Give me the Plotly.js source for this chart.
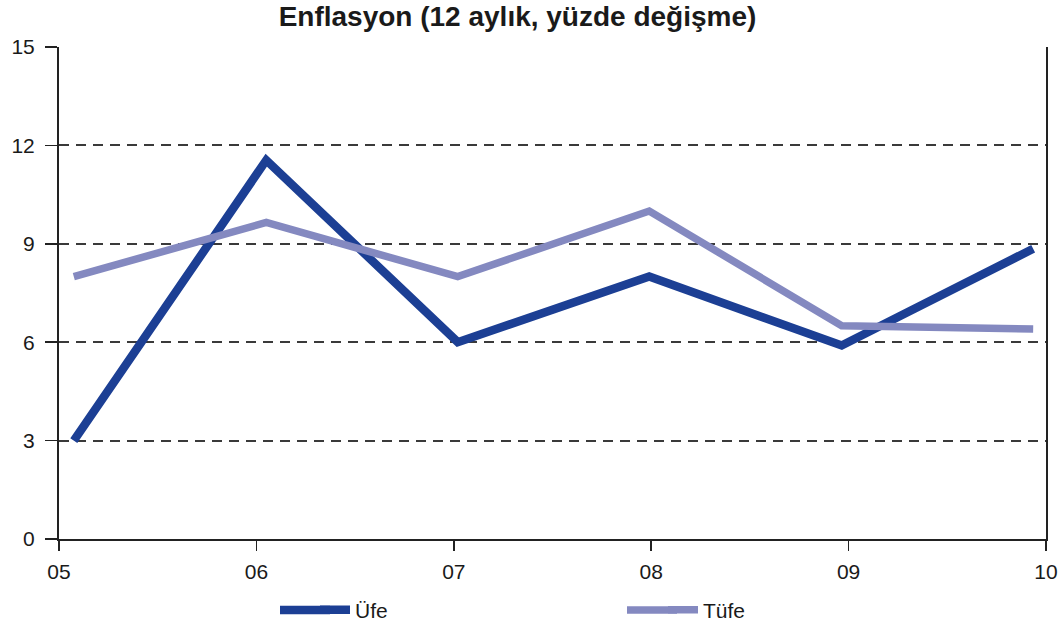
<!DOCTYPE html>
<html>
<head>
<meta charset="utf-8">
<script src="https://cdn.plot.ly/plotly-3.0.1.min.js"></script>
<style>html,body{margin:0;padding:0;background:#fff;}#chart{width:1059px;height:625px;}</style>
</head>
<body>
<div id="chart"></div>
<script>
// Point positions in years (data plotted slightly offset from the year ticks)
const xPoints = [2005.075, 2006.05, 2007.02, 2007.99, 2008.965, 2009.935];
const ufe = [3.0, 11.55, 6.0, 8.0, 5.9, 8.85];
const tufe = [8.0, 9.65, 8.0, 10.0, 6.5, 6.4];
const tickVals = [2005, 2006, 2007, 2008, 2009, 2010];
const tickText = ['05', '06', '07', '08', '09', '10'];
const yTicks = [0, 3, 6, 9, 12, 15];

const font = 'Liberation Sans, Arial, Helvetica, sans-serif';
const colUfe = '#1c3f94', colTufe = '#8489c0';
const wUfe = 8.5, wTufe = 7.5;

const traces = [
  {x: xPoints, y: ufe, name: 'Üfe', type: 'scatter', mode: 'lines',
   line: {color: colUfe, width: wUfe}},
  {x: xPoints, y: tufe, name: 'Tüfe', type: 'scatter', mode: 'lines',
   line: {color: colTufe, width: wTufe}}
];

// legend sample extensions (the reference's legend keys are longer than Plotly's)
const legY = (539 - 610) / 492;
const px = v => (v - 59) / 987;
const shapes = [
  {type: 'line', xref: 'paper', yref: 'paper', x0: px(280), x1: px(330), y0: legY, y1: legY,
   line: {color: colUfe, width: wUfe}},
  {type: 'line', xref: 'paper', yref: 'paper', x0: px(627), x1: px(677), y0: legY, y1: legY,
   line: {color: colTufe, width: wTufe}}
];

const layout = {
  width: 1059, height: 625,
  margin: {l: 59, r: 13, t: 47, b: 86},
  paper_bgcolor: '#fff', plot_bgcolor: '#fff',
  font: {family: font, size: 21, color: '#1a1a1a'},
  title: {text: '<b>Enflasyon (12 aylık, yüzde değişme)</b>', x: 517.5 / 1059, xanchor: 'center',
          y: 1 - 16 / 625, yanchor: 'middle', font: {family: font, size: 28, color: '#1a1a1a'}},
  xaxis: {range: [2005, 2010], tickvals: tickVals, ticktext: tickText, automargin: false,
          showgrid: false, zeroline: false, showline: true, linecolor: '#222', linewidth: 2,
          ticks: 'outside', ticklen: 10, tickwidth: 1.5, tickcolor: '#222', ticklabelstandoff: 3,
          tickfont: {family: font, size: 21, color: '#1a1a1a'}},
  yaxis: {range: [0, 15], tickvals: yTicks, showgrid: true, gridcolor: '#3a3a3a', griddash: '10px,7px', gridwidth: 2,
          zeroline: false, showline: true, linecolor: '#222', linewidth: 2, mirror: true, automargin: false,
          ticks: 'outside', ticklen: 12, tickwidth: 1.5, tickcolor: '#222', ticklabelstandoff: 6,
          tickfont: {family: font, size: 21, color: '#1a1a1a'}},
  shapes: shapes,
  showlegend: true,
  legend: {orientation: 'h', xref: 'container', yref: 'container', x: 315 / 1059, xanchor: 'left',
           y: 15 / 625, yanchor: 'middle',
           entrywidth: 303, entrywidthmode: 'pixels', bgcolor: 'rgba(0,0,0,0)',
           font: {family: font, size: 21, color: '#1a1a1a'}}
};

Plotly.newPlot('chart', traces, layout, {displayModeBar: false, staticPlot: true});
</script>
</body>
</html>
